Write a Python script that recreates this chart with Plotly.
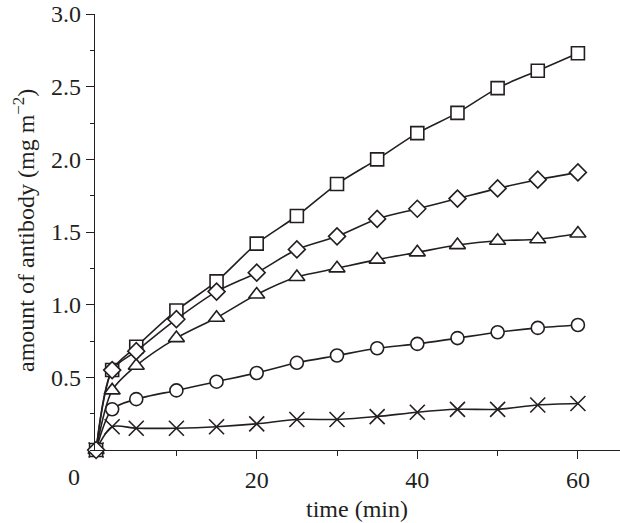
import plotly.graph_objects as go

# ---- data ----
time_min = [0, 2, 5, 10, 15, 20, 25, 30, 35, 40, 45, 50, 55, 60]
square_vals = [0, 0.55, 0.71, 0.96, 1.16, 1.42, 1.61, 1.83, 2.00, 2.18, 2.32, 2.49, 2.61, 2.73]
diamond_vals = [0, 0.55, 0.68, 0.90, 1.09, 1.22, 1.38, 1.47, 1.59, 1.66, 1.73, 1.80, 1.86, 1.91]
triangle_vals = [0, 0.41, 0.58, 0.77, 0.91, 1.07, 1.19, 1.25, 1.31, 1.36, 1.41, 1.44, 1.45, 1.49]
circle_vals = [0, 0.28, 0.35, 0.41, 0.47, 0.53, 0.60, 0.65, 0.70, 0.73, 0.77, 0.81, 0.84, 0.86]
cross_vals = [0, 0.16, 0.15, 0.15, 0.16, 0.18, 0.21, 0.21, 0.23, 0.26, 0.28, 0.28, 0.31, 0.32]

y_tickvals = [0.5, 1.0, 1.5, 2.0, 2.5, 3.0]
y_ticktext = ["0.5", "1.0", "1.5", "2.0", "2.5", "3.0"]
x_tickvals = [20, 40, 60]
x_minor_tickvals = [10, 30, 50]

INK = "#231f20"
FONT = "Liberation Serif"

series = [
    ("cross", cross_vals, "x-thin", 15),
    ("circle", circle_vals, "circle", 13),
    ("triangle", triangle_vals, "triangle-up", 14),
    ("square", square_vals, "square", 13),
    ("diamond", diamond_vals, "diamond", 13),
]

fig = go.Figure()
for name, vals, sym, size in series:
    is_x = sym == "x-thin"
    fig.add_trace(go.Scatter(
        x=time_min, y=vals, name=name, mode="lines+markers",
        line=dict(color=INK, width=1.6, shape="spline", smoothing=0.8),
        marker=dict(symbol=sym, size=size,
                    color=INK if is_x else "white",
                    line=dict(color=INK, width=1.6)),
        cliponaxis=False, showlegend=False,
    ))

fig.update_layout(
    width=620, height=523,
    margin=dict(l=95, r=0, t=14, b=73),
    plot_bgcolor="white", paper_bgcolor="white",
    font=dict(family=FONT, size=24, color=INK),
    xaxis=dict(
        range=[-0.137, 65.24], showgrid=False, zeroline=False,
        showline=True, linecolor=INK, linewidth=1.3,
        ticks="outside", ticklen=8, tickwidth=1.3, tickcolor=INK,
        tickvals=x_tickvals, ticktext=[str(v) for v in x_tickvals],
        minor=dict(tickvals=x_minor_tickvals, ticks="outside", ticklen=5,
                   tickwidth=1.3, tickcolor=INK),
        tickfont=dict(family=FONT, size=24),
        ticklabeloverflow="allow",
    ),
    yaxis=dict(
        range=[0, 3.0], showgrid=False, zeroline=False,
        showline=True, linecolor=INK, linewidth=1.3,
        ticks="outside", ticklen=8, tickwidth=1.3, tickcolor=INK,
        tickvals=y_tickvals, ticktext=y_ticktext,
        minor=dict(dtick=0.25, tick0=0, ticks="outside", ticklen=4,
                   tickwidth=1.3, tickcolor=INK),
        tickfont=dict(family=FONT, size=24),
        ticklabeloverflow="allow",
    ),
    annotations=[
        dict(text="0", x=0, y=0, xref="x", yref="y", showarrow=False,
             xshift=-22, yshift=-27, font=dict(family=FONT, size=24, color=INK)),
        dict(text="time (min)", x=(357 - 95) / 525, y=(450 - 509) / 436,
             xref="paper", yref="paper", showarrow=False,
             xanchor="center", yanchor="middle", font=dict(family=FONT, size=24, color=INK)),
        dict(text="amount of antibody (mg m<sup>−2</sup>)", x=(24 - 95) / 525,
             y=(450 - 231) / 436, xref="paper", yref="paper", showarrow=False,
             textangle=-90, xanchor="center", yanchor="middle",
             font=dict(family=FONT, size=24, color=INK)),
    ],
)

# remove the page's default 8px body margin so the figure fills the window
fig.write_html("out.html", config={"displayModeBar": False},
               post_script="document.body.style.margin='0';")
